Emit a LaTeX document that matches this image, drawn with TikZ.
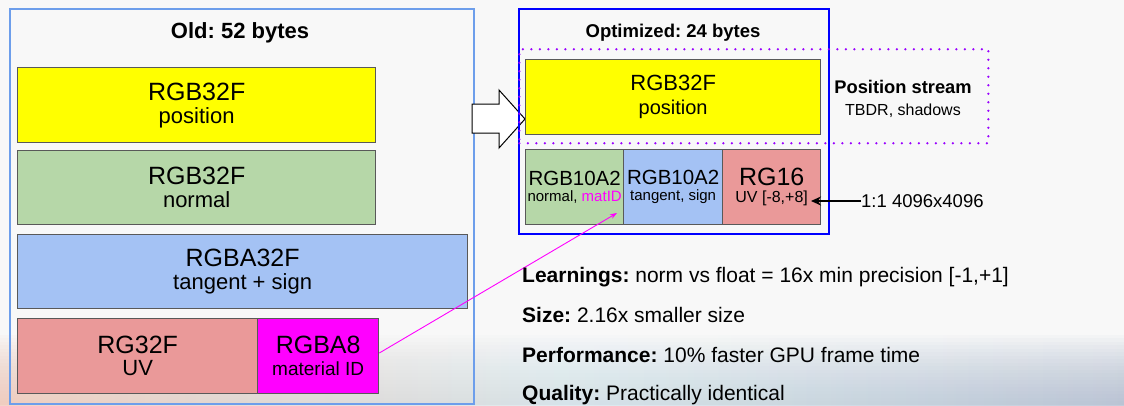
\documentclass[tikz,border=0pt]{standalone}
\usepackage{fontspec}
\setmainfont{Liberation Sans}
\usetikzlibrary{arrows.meta}
\definecolor{bgc}{HTML}{F8F8F8}
\definecolor{oldblue}{HTML}{6D9EEB}
\definecolor{optblue}{HTML}{0000FF}
\definecolor{cyel}{HTML}{FFFF00}
\definecolor{cgrn}{HTML}{B6D7A8}
\definecolor{cblu}{HTML}{A4C2F4}
\definecolor{cred}{HTML}{EA9999}
\definecolor{cmag}{HTML}{FF00FF}
\definecolor{cpur}{HTML}{9900FF}
\definecolor{bord}{HTML}{595959}
\definecolor{peach}{HTML}{EFC2B0}
\definecolor{steel}{HTML}{A9B6CC}
\definecolor{mist}{HTML}{CFE3EA}
\newcommand{\fs}[1]{\fontsize{#1}{#1}\selectfont}
\frenchspacing
\begin{document}
\frenchspacing
\begin{tikzpicture}[x=1pt,y=-1pt,
  cell/.style={draw=bord, line width=1.3, anchor=north west, inner sep=0pt, align=center, text=black},
  frameold/.style={draw=oldblue, line width=2, anchor=north west, inner sep=0pt},
  frameopt/.style={draw=optblue, line width=2, anchor=north west, inner sep=0pt},
  bul/.style={anchor=base west, font=\fs{21}, inner sep=0pt}]
\useasboundingbox (0,0) rectangle (1124,405);
\fill[bgc] (0,0) rectangle (1124,405);
\foreach \i in {0,...,19}{
  \shade[left color=peach, right color=steel, middle color=mist, opacity=0.06]
    (0,{335+\i*3.5}) rectangle (1124,405);
}
% old frame
\node[frameold, minimum width=464, minimum height=395] (old) at (9,8) {};
\node[font=\bfseries\fs{22}] (oldt) at (240,33) {Old: 52 bytes};
\node[cell, fill=cyel, minimum width=358, minimum height=75] (opos) at (17,67)
  {\fs{25}RGB32F\\[6pt]\fs{22}position};
\node[cell, fill=cgrn, minimum width=358, minimum height=74] (onrm) at (17,150)
  {\fs{25}RGB32F\\[6pt]\fs{22}normal};
\node[cell, fill=cblu, minimum width=450, minimum height=74] (otan) at (17,234)
  {\fs{25}RGBA32F\\[6pt]\fs{22}tangent + sign};
\node[cell, fill=cred, minimum width=240, minimum height=75] (ouv) at (17,318)
  {\fs{25}RG32F\\[6pt]\fs{22}UV};
\node[cell, fill=cmag, minimum width=121, minimum height=75] (omat) at (257,318)
  {\fs{25}RGBA8\\[7pt]\fs{19}material ID};
% block arrow
\draw[black, line width=1, fill=white] (472,104) -- (499,104) -- (499,90) -- (525,119) -- (499,148) -- (499,133) -- (472,133) -- cycle;
% optimized frame
\node[frameopt, minimum width=310, minimum height=225] (opt) at (518,8) {};
\node[font=\bfseries\fs{18.5}] (optt) at (673,33) {Optimized: 24 bytes};
\node[draw=cpur, line width=2.5, line cap=round, dash pattern=on 0pt off 8.5pt, anchor=north west, inner sep=0pt, minimum width=469, minimum height=94] (stream) at (518,48) {};
\node[cell, fill=cyel, minimum width=295, minimum height=75] (npos) at (525,59)
  {\fs{22}RGB32F\\[8pt]\fs{20}position};
\node[align=center, inner sep=0pt] (pst) at (903,99)
  {\bfseries\fs{18.3}Position stream\\[10pt]\mdseries\fs{16}TBDR, shadows};
\node[cell, fill=cgrn, minimum width=98, minimum height=75] (nnrm) at (525,149)
  {\fs{20.5}RGB10A2\\[4pt]\fs{15}normal, \textcolor{cmag}{matID}};
\node[cell, fill=cblu, minimum width=99, minimum height=75] (ntan) at (623,149)
  {\fs{20.5}RGB10A2\\[4pt]\fs{15}tangent, sign};
\node[cell, fill=cred, minimum width=98, minimum height=75] (nuv) at (722,149)
  {\fs{25}RG16\\[5pt]\fs{16}UV [-8,+8]};
% uv arrow
\node[anchor=west, inner sep=0pt, font=\fs{18.5}] (res) at (861,201) {1:1 4096x4096};
\coordinate (uvtip) at (811,201);
\draw[line width=2, -{Stealth[length=10pt,width=9pt]}] (res.west) -- (uvtip);
% magenta connector
\coordinate (mtip) at (617,213);
\draw[cmag, line width=0.9, -{Stealth[length=7pt,width=5pt]}] (omat.east |- 0,353) -- (mtip);
% bullets
\node[bul] (l1) at (522,282) {\textbf{Learnings:} norm vs float = 16x min precision [-1,+1]};
\node[bul] (l2) at (522,322) {\textbf{Size:} 2.16x smaller size};
\node[bul] (l3) at (522,362) {\textbf{Performance:} 10\% faster GPU frame time};
\node[bul] (l4) at (522,400) {\textbf{Quality:} Practically identical};
\end{tikzpicture}
\end{document}
